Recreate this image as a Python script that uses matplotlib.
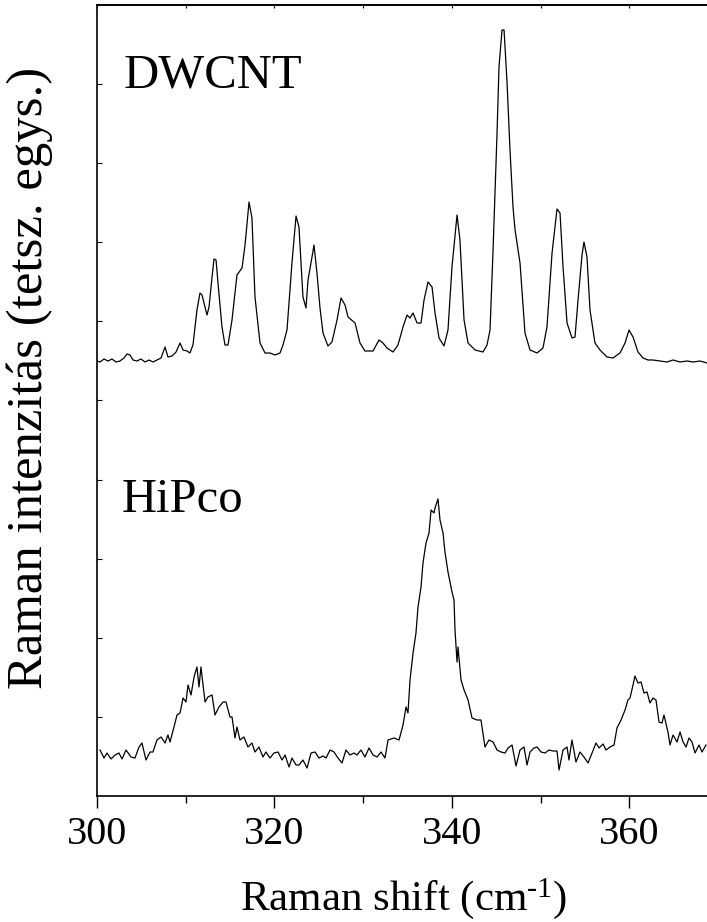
import matplotlib
matplotlib.use("Agg")
import matplotlib.pyplot as plt
import numpy as np

# ---- data (intensity in arbitrary units) ----
dwcnt_x = [300.00, 300.34, 300.79, 301.24, 301.69, 302.14, 302.59, 303.04, 303.38, 303.72,
           304.06, 304.51, 304.96, 305.41, 305.86, 306.31, 306.76, 307.22, 307.67, 308.00,
           308.46, 308.91, 309.36, 309.70, 310.15, 310.48, 310.82, 311.27, 311.61, 311.84,
           312.06, 312.40, 312.63, 312.97, 313.19, 313.42, 313.64, 314.09, 314.43, 314.77,
           315.22, 315.78, 316.35, 316.69, 317.14, 317.47, 317.81, 318.38, 318.94, 319.50,
           320.07, 320.63, 320.97, 321.42, 321.98, 322.44, 322.77, 323.22, 323.56, 323.79,
           324.24, 324.46, 324.80, 325.14, 325.48, 326.04, 326.49, 327.06, 327.51, 327.96,
           328.30, 329.09, 329.65, 330.21, 331.12, 331.79, 332.24, 332.69, 333.37, 333.93,
           334.50, 334.95, 335.29, 335.63, 336.08, 336.53, 336.87, 337.32, 337.77, 338.11,
           338.56, 339.12, 339.57, 340.02, 340.59, 340.92, 341.38, 341.83, 342.62, 343.52,
           343.97, 344.31, 344.65, 345.10, 345.32, 345.66, 345.89, 346.23, 346.56, 346.90,
           347.13, 347.35, 347.69, 348.25, 348.82, 349.61, 350.28, 350.73, 351.30, 351.86,
           352.20, 352.54, 352.99, 353.55, 353.89, 354.23, 354.68, 354.90, 355.24, 355.58,
           356.14, 356.71, 357.50, 358.17, 358.96, 359.53, 359.98, 360.43, 360.99, 361.56,
           362.12, 362.68, 363.47, 364.26, 364.94, 365.73, 366.52, 367.19, 367.98, 368.77]
dwcnt_y = [435, 434, 437, 435, 437, 434, 435, 438, 442, 441,
           436, 435, 437, 434, 436, 434, 436, 438, 449, 439,
           440, 444, 453, 446, 445, 443, 451, 486, 503, 501,
           493, 481, 489, 519, 537, 536, 513, 469, 451, 451,
           476, 521, 528, 551, 594, 578, 499, 453, 443, 443,
           441, 443, 451, 466, 533, 580, 569, 499, 488, 516,
           539, 551, 523, 488, 463, 450, 454, 476, 498, 491,
           479, 473, 453, 445, 445, 456, 453, 448, 444, 451,
           469, 481, 478, 483, 473, 473, 496, 514, 509, 483,
           458, 450, 466, 529, 581, 556, 476, 453, 446, 444,
           451, 466, 546, 663, 729, 766, 766, 713, 646, 589,
           566, 553, 533, 463, 446, 443, 448, 469, 543, 587,
           583, 529, 473, 458, 459, 496, 541, 554, 539, 486,
           453, 446, 439, 438, 443, 453, 466, 459, 444, 438,
           436, 436, 435, 434, 436, 434, 435, 434, 435, 433]

hipco_x = [300.34, 300.79, 301.13, 301.58, 302.03, 302.48, 302.82, 303.27, 303.83, 304.28,
           304.74, 305.07, 305.52, 305.98, 306.31, 306.76, 307.22, 307.67, 308.00, 308.23,
           308.68, 309.02, 309.36, 309.70, 310.03, 310.26, 310.60, 310.94, 311.27, 311.50,
           311.72, 312.18, 312.51, 312.97, 313.30, 313.75, 314.21, 314.54, 314.99, 315.22,
           315.56, 315.78, 316.12, 316.57, 317.02, 317.47, 317.81, 318.26, 318.71, 319.05,
           319.50, 319.95, 320.41, 320.86, 321.20, 321.65, 321.98, 322.44, 322.77, 323.22,
           323.68, 324.13, 324.58, 325.03, 325.48, 325.82, 326.27, 326.72, 327.17, 327.62,
           328.07, 328.52, 328.97, 329.31, 329.76, 330.21, 330.67, 331.12, 331.57, 332.02,
           332.47, 332.81, 333.48, 334.05, 334.50, 334.84, 335.06, 335.29, 335.63, 335.96,
           336.19, 336.53, 336.75, 337.09, 337.43, 337.66, 337.99, 338.11, 338.44, 338.67,
           339.01, 339.23, 339.57, 340.02, 340.25, 340.36, 340.59, 340.70, 341.04, 341.38,
           341.83, 342.28, 342.84, 343.29, 343.74, 344.19, 344.65, 345.10, 345.55, 346.00,
           346.34, 346.79, 347.24, 347.69, 348.14, 348.48, 348.82, 349.27, 349.61, 350.06,
           350.51, 350.96, 351.41, 351.86, 352.09, 352.54, 352.99, 353.21, 353.55, 354.00,
           354.45, 354.90, 355.36, 355.81, 356.26, 356.60, 357.05, 357.38, 357.84, 358.29,
           358.62, 359.08, 359.53, 359.86, 360.09, 360.43, 360.65, 360.99, 361.33, 361.67,
           362.01, 362.34, 362.68, 363.02, 363.36, 363.70, 363.92, 364.37, 364.60, 364.94,
           365.39, 365.73, 366.07, 366.41, 366.74, 367.08, 367.42, 367.87, 368.21, 368.66]
hipco_y = [46, 38, 43, 37, 41, 43, 37, 46, 39, 38,
           49, 53, 36, 44, 44, 56, 59, 53, 61, 54,
           69, 81, 83, 98, 94, 111, 101, 119, 129, 109,
           129, 94, 99, 101, 81, 89, 94, 94, 79, 79,
           58, 69, 56, 59, 49, 53, 44, 49, 39, 44,
           38, 43, 44, 36, 41, 29, 38, 31, 31, 36,
           28, 43, 44, 38, 40, 38, 46, 44, 38, 33,
           46, 41, 43, 41, 46, 39, 48, 41, 39, 44,
           38, 56, 58, 56, 71, 89, 83, 116, 143, 163,
           189, 209, 233, 253, 263, 286, 283, 288, 297, 276,
           263, 244, 224, 204, 196, 166, 134, 149, 116, 106,
           96, 78, 76, 76, 49, 56, 54, 46, 44, 43,
           48, 51, 30, 46, 49, 31, 44, 48, 49, 44,
           43, 46, 45, 45, 26, 46, 49, 36, 56, 34,
           44, 39, 33, 43, 53, 48, 52, 46, 49, 51,
           68, 76, 86, 96, 98, 111, 120, 113, 114, 103,
           104, 93, 98, 96, 74, 73, 81, 64, 51, 61,
           54, 64, 54, 49, 58, 54, 43, 51, 44, 51]

labels = ["DWCNT", "HiPco"]
xticks_major = [300, 320, 340, 360]
xticks_minor = [310, 330, 350]
x_range = (300, 368.77)
y_range = (0, 791)

# ---- style ----
plt.rcParams['font.family'] = ['Liberation Serif', 'DejaVu Serif']
plt.rcParams['mathtext.fontset'] = 'custom'
plt.rcParams['mathtext.rm'] = 'Liberation Serif'
plt.rcParams['mathtext.it'] = 'Liberation Serif:italic'

fig = plt.figure(figsize=(7.07, 9.22), dpi=100)
ax = fig.add_axes([97/707, 126/922, 610/707, 791/922])

ax.plot(dwcnt_x, dwcnt_y, color='black', lw=0.9)
ax.plot(hipco_x, hipco_y, color='black', lw=0.9)

ax.set_xlim(*x_range)
ax.set_ylim(*y_range)

ax.spines['right'].set_visible(False)
for s in ['left', 'bottom', 'top']:
    ax.spines[s].set_linewidth(1.2)

ax.set_xticks(xticks_major)
ax.set_xticks(xticks_minor, minor=True)
ax.tick_params(axis='x', which='major', direction='out', length=8.5, width=1.0,
               labelsize=29, pad=6)
ax.tick_params(axis='x', which='minor', direction='out', length=5, width=1.0)

yt = [y_range[1] * k / 10 for k in range(1, 10)]
ax.set_yticks(yt)
ax.set_yticklabels([])
ax.tick_params(axis='y', direction='in', length=3.5, width=0.8)

sec = ax.secondary_xaxis('top')
sec.set_xticks(list(range(300, 370, 10)))
sec.tick_params(direction='in', length=2.5, width=0.8, labeltop=False)
sec.spines['top'].set_linewidth(1.2)

ax.set_xlabel("Raman shift (cm$^{\\text{-1}}$)", fontsize=31)
ax.xaxis.set_label_coords(0.503, -0.130)
ax.xaxis.label.set_va('center')
ax.set_ylabel("Raman intenzitás (tetsz. egys.)", fontsize=36.5)
ax.yaxis.set_label_coords(-0.11, 0.528)
ax.yaxis.label.set_va('center')

ax.text(303.0, 708, labels[0], fontsize=35, ha='left', va='baseline')
ax.text(302.8, 284, labels[1], fontsize=35, ha='left', va='baseline')

fig.savefig("out.png", dpi=100)
